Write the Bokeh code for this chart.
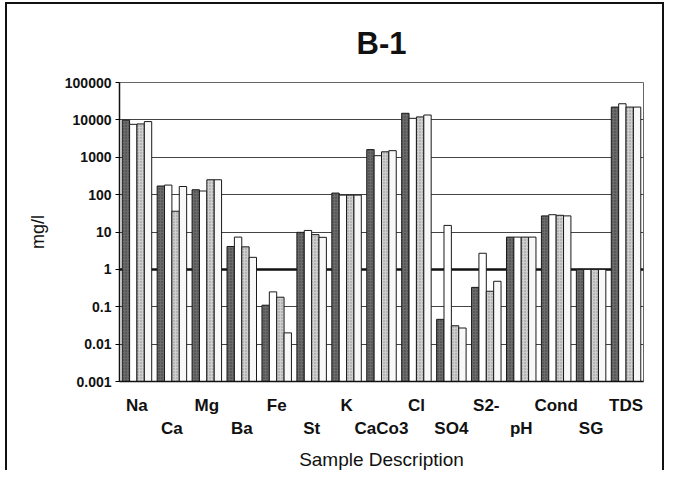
import numpy as np
from bokeh.plotting import figure
from bokeh.models import (Range1d, FixedTicker, CustomJSTickFormatter, LinearAxis,
                          Span, ColumnDataSource)
from bokeh.embed import file_html
from bokeh.resources import INLINE

categories = ["Na", "Ca", "Mg", "Ba", "Fe", "St", "K", "CaCo3", "Cl", "SO4",
              "S2-", "pH", "Cond", "SG", "TDS"]
series_1 = [9800, 170, 135, 4.1, 0.11, 9.8, 110, 1600, 15000, 0.046, 0.33, 7.3, 27, 1.0, 22000]
series_2 = [7600, 180, 125, 7.3, 0.25, 11, 97, 1100, 11000, 15, 2.7, 7.3, 29, 1.0, 27000]
series_3 = [7800, 36, 250, 4.0, 0.18, 8.5, 97, 1400, 12000, 0.031, 0.26, 7.3, 28, 1.0, 22000]
series_4 = [9000, 165, 250, 2.1, 0.02, 7.2, 97, 1500, 13500, 0.027, 0.48, 7.3, 27, 1.0, 22000]
y_ticks = [0.001, 0.01, 0.1, 1, 10, 100, 1000, 10000, 100000]
title_text = "B-1"

FONT = "Liberation Sans"
n = len(categories)
centers = np.arange(n) + 0.5

p = figure(width=655, height=466, x_range=Range1d(0, n), y_range=Range1d(0.001, 100000),
           y_axis_type="log", output_backend="svg", toolbar_location=None,
           min_border_left=112, min_border_right=23, min_border_top=78, min_border_bottom=80,
           x_axis_location=None)
p.styles = {"border-top": "2px solid #111111", "border-left": "2px solid #111111",
            "border-right": "2px solid #111111", "margin-left": "5px", "margin-top": "2px",
            "box-sizing": "content-box"}

p.title.text = title_text
p.title.align = "center"
p.title.vertical_align = "top"
p.title.text_font = FONT
p.title.text_font_size = "31px"
p.title.text_font_style = "bold"
p.title.text_color = "#111111"
p.title.standoff = 39

bar_w = 0.211
offsets = [-1.5 * bar_w, -0.5 * bar_w, 0.5 * bar_w, 1.5 * bar_w]
styles = [
    dict(fill_color="#6b6b6b", hatch_pattern="dot", hatch_color="#3c3c3c", hatch_scale=3),
    dict(fill_color="#ffffff"),
    dict(fill_color="#cfcfcf", hatch_pattern="dot", hatch_color="#8e8e8e", hatch_scale=3),
    dict(fill_color="#f8f8f8"),
]
for vals, off, st in zip([series_1, series_2, series_3, series_4], offsets, styles):
    src = ColumnDataSource(dict(x=centers + off, top=vals))
    p.vbar(x="x", top="top", bottom=0.001, width=bar_w, source=src,
           line_color="#1a1a1a", line_width=1, **st)

# y axis
yax = p.yaxis[0]
yax.ticker = FixedTicker(ticks=y_ticks)
yax.formatter = CustomJSTickFormatter(code="return Number(tick.toPrecision(6)).toString();")
yax.major_label_text_font = FONT
yax.major_label_text_font_size = "14px"
yax.major_label_text_font_style = "bold"
yax.major_label_text_color = "#111111"
yax.major_tick_out = 4
yax.major_tick_in = 0
yax.minor_tick_out = 0
yax.minor_tick_in = 0
yax.axis_line_color = "#111111"
yax.axis_line_width = 1.5
yax.major_label_standoff = 4
yax.axis_label = "mg/l"
yax.axis_label_text_font = FONT
yax.axis_label_text_font_size = "18px"
yax.axis_label_text_font_style = "normal"
yax.axis_label_text_color = "#111111"
yax.axis_label_standoff = 14

p.ygrid.ticker = FixedTicker(ticks=y_ticks)
p.ygrid.grid_line_color = "#444444"
p.ygrid.grid_line_width = 1
p.xgrid.visible = False
p.add_layout(Span(location=1, dimension="width", line_color="#111111", line_width=2.5, level="underlay"))

fmt = CustomJSTickFormatter(args=dict(names=categories),
                            code="return names[Math.round(tick - 0.5)];")

ax1 = LinearAxis(ticker=FixedTicker(ticks=list(centers[0::2])), formatter=fmt)
ax2 = LinearAxis(ticker=FixedTicker(ticks=list(centers[1::2])), formatter=fmt)
for ax in (ax1, ax2):
    ax.major_label_text_font = FONT
    ax.major_label_text_font_size = "17px"
    ax.major_label_text_font_style = "bold"
    ax.major_label_text_color = "#111111"
    ax.major_tick_line_color = None
    ax.minor_tick_line_color = None
ax1.axis_line_color = "#111111"
ax1.axis_line_width = 1.5
ax1.major_label_standoff = 8
ax2.axis_line_color = None
ax2.major_label_standoff = -5
ax2.axis_label = "Sample Description"
ax2.axis_label_text_font = FONT
ax2.axis_label_text_font_size = "19px"
ax2.axis_label_text_font_style = "normal"
ax2.axis_label_text_color = "#111111"
ax2.axis_label_standoff = 8
p.add_layout(ax1, "below")
p.add_layout(ax2, "below")

p.outline_line_color = "#666666"
p.outline_line_width = 1

open("out.html", "w").write(file_html(p, INLINE))
